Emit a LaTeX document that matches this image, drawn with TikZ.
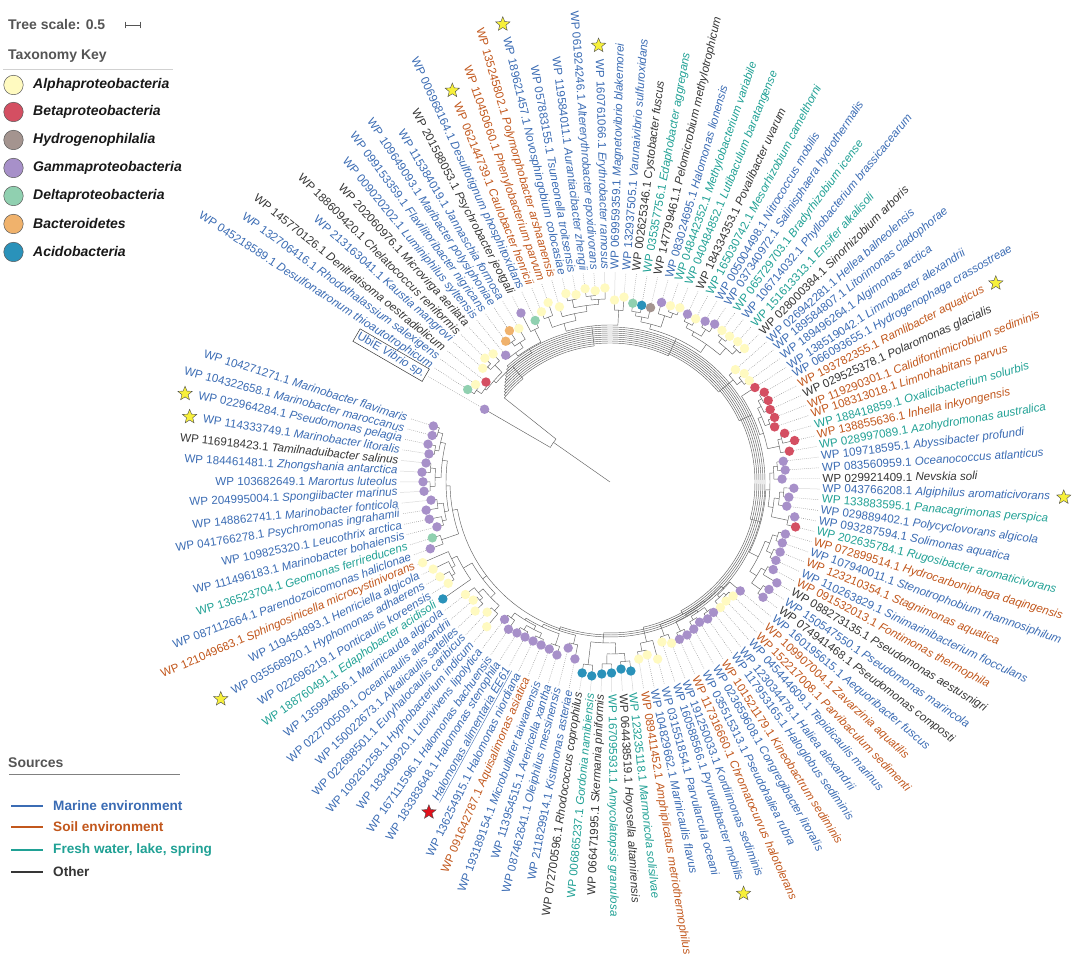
\documentclass[tikz,border=0pt]{standalone}
\usepackage{fontspec}
\setmainfont{Liberation Sans}
\usetikzlibrary{shapes.geometric}
\definecolor{mar}{HTML}{3B6CB4}
\definecolor{soil}{HTML}{C2571C}
\definecolor{fresh}{HTML}{20A195}
\definecolor{oth}{HTML}{363636}
\definecolor{cAl}{HTML}{FFFAC0}
\definecolor{cBe}{HTML}{D44F62}
\definecolor{cHy}{HTML}{A4948F}
\definecolor{cGa}{HTML}{A790C9}
\definecolor{cDe}{HTML}{90D0B0}
\definecolor{cBa}{HTML}{F0B26C}
\definecolor{cAc}{HTML}{2A92BA}
\definecolor{ttl}{HTML}{555555}
\definecolor{starY}{HTML}{F7F03A}
\definecolor{starR}{HTML}{E0101B}
\newcommand\labsize{\fontsize{11.6}{13}\selectfont}
\newcommand\WPl[2]{WP #1 \textit{#2}}
\def\emptymac{}
\setlength{\fboxsep}{1.5pt}
\setlength{\fboxrule}{0.5pt}
\makeatletter
\newcommand\Lf[5]{%
  \pgfmathsetmacro\tmpang{149.9-2.92*(#1-1)}%
  \expandafter\xdef\csname ta@L#1\endcsname{\tmpang}%
  \expandafter\xdef\csname tr@L#1\endcsname{#2}%
  \expandafter\xdef\csname dc@L#1\endcsname{#3}%
  \expandafter\xdef\csname lc@L#1\endcsname{#4}%
  \expandafter\gdef\csname tx@L#1\endcsname{#5}%
  \expandafter\gdef\csname st@L#1\endcsname{}%
}
\newcommand\MarkStar[2]{\expandafter\gdef\csname st@L#1\endcsname{#2}}
\newcommand\Cl[4]{%
  \gdef\cl@first{}%
  \foreach \ch in {#4}{%
    \ifx\cl@first\@empty\xdef\cl@first{\ch}\fi
    \xdef\cl@last{\ch}}%
  \edef\cl@a{\csname ta@\cl@first\endcsname}%
  \edef\cl@b{\csname ta@\cl@last\endcsname}%
  \if\relax\detokenize{#3}\relax
    \pgfmathsetmacro\cl@m{(\cl@a+\cl@b)/2}%
  \else
    \edef\cl@m{#3}%
  \fi
  \pgfmathsetmacro\cl@hi{max(\cl@a,\cl@b,\cl@m)}%
  \pgfmathsetmacro\cl@lo{min(\cl@a,\cl@b,\cl@m)}%
  \draw[br] (\cl@hi:#2) arc[start angle=\cl@hi, end angle=\cl@lo, radius=#2];
  \foreach \ch in {#4}{%
    \edef\cl@ca{\csname ta@\ch\endcsname}%
    \edef\cl@cr{\csname tr@\ch\endcsname}%
    \draw[br] (\cl@ca:#2) -- (\cl@ca:\cl@cr);}%
  \expandafter\xdef\csname ta@#1\endcsname{\cl@m}%
  \expandafter\xdef\csname tr@#1\endcsname{#2}%
}
\makeatother
\tikzset{
  br/.style={black!62, line width=0.45pt},
  dotl/.style={black!42, line width=0.5pt, dash pattern=on 0.7pt off 1.3pt},
  lab/.style={font=\labsize, inner sep=0.5pt},
  mstar/.style={star, star points=5, star point ratio=2.3, minimum size=15pt, inner sep=0pt, draw=black!70, line width=0.4pt},
  ttlfont/.style={font=\bfseries\fontsize{14}{16}\selectfont, text=ttl, inner sep=0pt},
  legtax/.style={font=\bfseries\itshape\fontsize{14}{16}\selectfont, text=black!90, inner sep=0pt},
  legsrc/.style={font=\bfseries\fontsize{13.6}{16}\selectfont, inner sep=0pt},
  legdot/.style={circle, draw=black!65, line width=0.5pt, minimum size=19.5pt, inner sep=0pt},
  srcline/.style={line width=1.6pt}
}
\begin{document}
\begin{tikzpicture}[x=1pt,y=1pt]
\fill[white] (0,0) rectangle (1080,965);
\useasboundingbox (0,0) rectangle (1080,965);
\begin{scope}[shift={(610,483)}]
\Lf{1}{145}{cGa}{mar}{\fcolorbox{oth}{white}{UbiE \textit{Vibrio sp.}}}
\Lf{2}{169.7}{cDe}{mar}{\WPl{045218589.1}{Desulfonatronum thioautotrophicum}}
\Lf{3}{166}{cAl}{mar}{\WPl{132706416.1}{Rhodothalassium salexigens}}
\Lf{4}{159.3}{cBe}{oth}{\WPl{145770126.1}{Denitratisoma oestradiolicum}}
\Lf{5}{170.7}{cAl}{mar}{\WPl{213163041.1}{Kaustia mangrovi}}
\Lf{6}{176}{cAl}{oth}{\WPl{188609420.1}{Chelatococcus reniformis}}
\Lf{7}{173.4}{cAl}{oth}{\WPl{202060976.1}{Microvirga aerilata}}
\Lf{8}{164.2}{cGa}{mar}{\WPl{009020202.1}{Luminiphilus syltensis}}
\Lf{9}{175.2}{cBa}{mar}{\WPl{099153359.1}{Flavilitoribacter nigricans}}
\Lf{10}{181.7}{cBa}{mar}{\WPl{109649093.1}{Maribacter polysiphoniae}}
\Lf{11}{178.5}{cAl}{mar}{\WPl{115384019.1}{Jannaschia formosa}}
\Lf{12}{191}{cGa}{oth}{\WPl{201588053.1}{Psychrobacter jeotgali}}
\Lf{13}{178}{cDe}{mar}{\WPl{006968164.1}{Desulfotignum phosphitoxidans}}
\Lf{14}{183.5}{cAl}{soil}{\WPl{062144739.1}{Caulobacter henricii}}
\Lf{15}{189.8}{cAl}{soil}{\WPl{110450660.1}{Phenylobacterium parvum}}
\Lf{16}{182.3}{cAl}{soil}{\WPl{135245802.1}{Polymorphobacter arshaanensis}}
\Lf{17}{193.5}{cAl}{mar}{\WPl{189621457.1}{Novosphingobium colocasiae}}
\Lf{18}{190.4}{cAl}{mar}{\WPl{057883155.1}{Tsuneonella troitsensis}}
\Lf{19}{194.9}{cAl}{mar}{\WPl{119584011.1}{Aurantiacibacter zhengii}}
\Lf{20}{191.8}{cAl}{mar}{\WPl{061924246.1}{Altererythrobacter epoxidivorans}}
\Lf{21}{194.1}{cAl}{mar}{\WPl{160761066.1}{Erythrobacter ramosus}}
\Lf{22}{182}{cAl}{mar}{\WPl{069959359.1}{Magnetovibrio blakemorei}}
\Lf{23}{185.4}{cAl}{mar}{\WPl{132937505.1}{Varunaivibrio sulfuroxidans}}
\Lf{24}{180.2}{cDe}{oth}{\WPl{002625346.1}{Cystobacter fuscus}}
\Lf{25}{179.5}{cAc}{fresh}{\WPl{035357756.1}{Edaphobacter aggregans}}
\Lf{26}{179}{cHy}{oth}{\WPl{147799461.1}{Pelomicrobium methylotrophicum}}
\Lf{27}{186.8}{cGa}{mar}{\WPl{083024695.1}{Halomonas lionensis}}
\Lf{28}{186.3}{cAl}{fresh}{\WPl{048442352.1}{Methylobacterium variabile}}
\Lf{29}{187.7}{cAl}{fresh}{\WPl{040484852.1}{Lutibaculum baratangense}}
\Lf{30}{184.9}{cGa}{oth}{\WPl{184334353.1}{Povalibacter uvarum}}
\Lf{31}{184.3}{cAl}{fresh}{\WPl{165030742.1}{Mesorhizobium camelthorni}}
\Lf{32}{186.8}{cGa}{mar}{\WPl{005004498.1}{Nitrococcus mobilis}}
\Lf{33}{189.4}{cGa}{mar}{\WPl{037340972.1}{Salinisphaera hydrothermalis}}
\Lf{34}{188.4}{cAl}{fresh}{\WPl{065729703.1}{Bradyrhizobium icense}}
\Lf{35}{188.5}{cAl}{mar}{\WPl{106714032.1}{Phyllobacterium brassicacearum}}
\Lf{36}{189.8}{cAl}{fresh}{\WPl{151613313.1}{Ensifer alkalisoli}}
\Lf{37}{189.5}{cAl}{oth}{\WPl{028000384.1}{Sinorhizobium arboris}}
\Lf{38}{168.4}{cAl}{mar}{\WPl{026942281.1}{Hellea balneolensis}}
\Lf{39}{172.6}{cAl}{mar}{\WPl{189584807.1}{Litorimonas cladophorae}}
\Lf{40}{172.2}{cAl}{mar}{\WPl{189496264.1}{Algimonas arctica}}
\Lf{41}{173}{cBe}{mar}{\WPl{138519042.1}{Limnobacter alexandrii}}
\Lf{42}{178.5}{cBe}{mar}{\WPl{066093655.1}{Hydrogenophaga crassostreae}}
\Lf{43}{178}{cBe}{soil}{\WPl{193782355.1}{Ramlibacter aquaticus}}
\Lf{44}{175.8}{cBe}{oth}{\WPl{029525378.1}{Polaromonas glacialis}}
\Lf{45}{176.8}{cBe}{soil}{\WPl{119290301.1}{Calidifontimicrobium sediminis}}
\Lf{46}{173.6}{cBe}{soil}{\WPl{108313018.1}{Limnohabitans parvus}}
\Lf{47}{181.3}{cBe}{fresh}{\WPl{188418859.1}{Oxalicibacterium solurbis}}
\Lf{48}{189.2}{cBe}{soil}{\WPl{138855636.1}{Inhella inkyongensis}}
\Lf{49}{182}{cBe}{fresh}{\WPl{028997089.1}{Azohydromonas australica}}
\Lf{50}{174.5}{cGa}{mar}{\WPl{109718595.1}{Abyssibacter profundi}}
\Lf{51}{175.6}{cGa}{mar}{\WPl{083560959.1}{Oceanococcus atlanticus}}
\Lf{52}{172.1}{cGa}{oth}{\WPl{029921409.1}{Nevskia soli}}
\Lf{53}{184}{cGa}{mar}{\WPl{043766208.1}{Algiphilus aromaticivorans}}
\Lf{54}{179.5}{cGa}{fresh}{\WPl{133883595.1}{Panacagrimonas perspica}}
\Lf{55}{178.4}{cGa}{mar}{\WPl{029889402.1}{Polycyclovorans algicola}}
\Lf{56}{187.9}{cGa}{mar}{\WPl{093287594.1}{Solimonas aquatica}}
\Lf{57}{190.9}{cBe}{fresh}{\WPl{202635784.1}{Rugosibacter aromaticivorans}}
\Lf{58}{183}{cGa}{soil}{\WPl{072899514.1}{Hydrocarboniphaga daqingensis}}
\Lf{59}{182.8}{cGa}{mar}{\WPl{107940011.1}{Stenotrophobium rhamnosiphilum}}
\Lf{60}{184}{cGa}{soil}{\WPl{123210354.1}{Stagnimonas aquatica}}
\Lf{61}{183.5}{cGa}{mar}{\WPl{110263829.1}{Sinimarinibacterium flocculans}}
\Lf{62}{185.2}{cGa}{soil}{\WPl{091532013.1}{Fontimonas thermophila}}
\Lf{63}{195}{cGa}{oth}{\WPl{088273135.1}{Pseudomonas aestusnigri}}
\Lf{64}{191.9}{cGa}{mar}{\WPl{150547550.1}{Pseudomonas marincola}}
\Lf{65}{191.6}{cGa}{oth}{\WPl{074941468.1}{Pseudomonas composti}}
\Lf{66}{169.8}{cGa}{mar}{\WPl{160195615.1}{Aequoribacter fuscus}}
\Lf{67}{167.8}{cAl}{soil}{\WPl{109907004.1}{Zavarzinia aquatilis}}
\Lf{68}{166.2}{cAl}{soil}{\WPl{152217008.1}{Parvibaculum sedimenti}}
\Lf{69}{167.2}{cAl}{mar}{\WPl{045444609.1}{Tepidicaulis marinus}}
\Lf{70}{166.5}{cGa}{mar}{\WPl{123034478.1}{Haliea alexandrii}}
\Lf{71}{168.2}{cGa}{mar}{\WPl{117953165.1}{Haloglobus sediminis}}
\Lf{72}{166.4}{cGa}{soil}{\WPl{101521179.1}{Kineobactrum sediminis}}
\Lf{73}{169.3}{cGa}{mar}{\WPl{023659608.1}{Congregibacter litoralis}}
\Lf{74}{171.3}{cGa}{mar}{\WPl{035515313.1}{Pseudohaliea rubra}}
\Lf{75}{171.9}{cGa}{soil}{\WPl{117316660.1}{Chromatocurvus halotolerans}}
\Lf{76}{172.5}{cAl}{mar}{\WPl{191250033.1}{Kordiimonas sediminis}}
\Lf{77}{168.2}{cAl}{mar}{\WPl{160588566.1}{Pyruvatibacter mobilis}}
\Lf{78}{183.4}{cAl}{mar}{\WPl{031551854.1}{Parvularcula oceani}}
\Lf{79}{176.9}{cAl}{mar}{\WPl{104829662.1}{Marinicaulis flavus}}
\Lf{80}{179.4}{cAl}{soil}{\WPl{089411452.1}{Amphiplicatus metriothermophilus}}
\Lf{81}{190.2}{cAc}{fresh}{\WPl{123235118.1}{Marmoricola solisilvae}}
\Lf{82}{187.4}{cAc}{oth}{\WPl{064438519.1}{Hoyosella altamirensis}}
\Lf{83}{191}{cAc}{fresh}{\WPl{167095931.1}{Amycolatopsis granulosa}}
\Lf{84}{192.2}{cAc}{oth}{\WPl{066471995.1}{Skermania piniformis}}
\Lf{85}{194.8}{cAc}{fresh}{\WPl{006865237.1}{Gordonia namibiensis}}
\Lf{86}{193}{cAc}{oth}{\WPl{072700596.1}{Rhodococcus coprophilus}}
\Lf{87}{180.4}{cGa}{mar}{\WPl{211829914.1}{Kistimonas asteriae}}
\Lf{88}{171.2}{cGa}{mar}{\WPl{087462641.1}{Oleiphilus messinensis}}
\Lf{89}{180.9}{cGa}{mar}{\WPl{113954515.1}{Arenicella xantha}}
\Lf{90}{177.8}{cGa}{mar}{\WPl{193189154.1}{Microbulbifer taiwanensis}}
\Lf{91}{177}{cGa}{soil}{\WPl{091642787.1}{Aquisalimonas asiatica}}
\Lf{92}{176.7}{cGa}{mar}{\WPl{136254915.1}{Halomonas niordiana}}
\Lf{93}{176.8}{cGa}{mar}{\underline{\textit{Halomonas alimentaria EE61}}}
\Lf{94}{177.3}{cGa}{mar}{\WPl{183383648.1}{Halomonas stenophila}}
\Lf{95}{178.9}{cGa}{mar}{\WPl{167111596.1}{Halomonas bachuensis}}
\Lf{96}{173.2}{cGa}{mar}{\WPl{183409920.1}{Litorivivens lipolytica}}
\Lf{97}{190.1}{cAl}{mar}{\WPl{109261258.1}{Hyphobacterium indicum}}
\Lf{98}{179}{cAl}{mar}{\WPl{022698501.1}{Euryhalocaulis caribicus}}
\Lf{99}{186.7}{cAl}{mar}{\WPl{150022673.1}{Alkalicaulis satelles}}
\Lf{100}{180.8}{cAl}{mar}{\WPl{022700509.1}{Oceanicaulis alexandrii}}
\Lf{101}{183.2}{cAl}{mar}{\WPl{135994866.1}{Marinicauda algicola}}
\Lf{102}{204}{cAc}{fresh}{\WPl{188760491.1}{Edaphobacter acidisoli}}
\Lf{103}{190.9}{cAl}{mar}{\WPl{022696219.1}{Ponticaulis koreensis}}
\Lf{104}{194.7}{cAl}{mar}{\WPl{035568920.1}{Hyphomonas adhaerens}}
\Lf{105}{197.2}{cAl}{mar}{\WPl{119454893.1}{Henriciella algicola}}
\Lf{106}{204}{cAl}{soil}{\WPl{121049683.1}{Sphingosinicella microcystinivorans}}
\Lf{107}{191.7}{cGa}{mar}{\WPl{087112664.1}{Parendozoicomonas haliclonae}}
\Lf{108}{186.3}{cDe}{fresh}{\WPl{136523704.1}{Geomonas ferrireducens}}
\Lf{109}{178.8}{cGa}{mar}{\WPl{111496183.1}{Marinobacter bohaiensis}}
\Lf{110}{184.5}{cGa}{mar}{\WPl{109825320.1}{Leucothrix arctica}}
\Lf{111}{186}{cGa}{mar}{\WPl{041766278.1}{Psychromonas ingrahamii}}
\Lf{112}{179.9}{cGa}{mar}{\WPl{148862741.1}{Marinobacter fonticola}}
\Lf{113}{186.2}{cGa}{mar}{\WPl{204995004.1}{Spongiibacter marinus}}
\Lf{114}{187}{cGa}{mar}{\WPl{103682649.1}{Marortus luteolus}}
\Lf{115}{188.3}{cGa}{mar}{\WPl{184461481.1}{Zhongshania antarctica}}
\Lf{116}{185}{cGa}{oth}{\WPl{116918423.1}{Tamilnaduibacter salinus}}
\Lf{117}{183.2}{cGa}{mar}{\WPl{114333749.1}{Marinobacter litoralis}}
\Lf{118}{185.9}{cGa}{mar}{\WPl{022964284.1}{Pseudomonas pelagia}}
\Lf{119}{183.8}{cGa}{mar}{\WPl{104322658.1}{Marinobacter maroccanus}}
\Lf{120}{185.3}{cGa}{mar}{\WPl{104271271.1}{Marinobacter flavimaris}}
\MarkStar{14}{starY}\MarkStar{17}{starY}\MarkStar{21}{starY}\MarkStar{43}{starY}
\MarkStar{53}{starY}\MarkStar{77}{starY}\MarkStar{104}{starY}\MarkStar{117}{starY}
\MarkStar{118}{starY}\MarkStar{93}{starR}
% group 1
\Cl{a1}{162}{}{L2,L3}
\Cl{a2}{156}{}{a1,L4}
\Cl{a3}{168}{}{L5,L6}
\Cl{a4}{164}{}{a3,L7}
\Cl{a5}{154}{}{a2,a4}
\Cl{a6}{171}{}{L9,L10}
\Cl{a7}{166}{}{a6,L11}
\Cl{a8}{160}{}{L8,a7}
\Cl{a10}{170}{}{L12,L13}
\Cl{a9}{156}{}{a8,a10}
\Cl{a11}{151}{}{a5,a9}
% group 2
\Cl{b1}{176}{}{L14,L15}
\Cl{b2}{186}{}{L17,L18}
\Cl{b3}{187}{}{L19,L20}
\Cl{b4}{183}{}{b3,L21}
\Cl{b5}{178}{}{b2,b4}
\Cl{b6}{172}{}{L16,b5}
\Cl{b7}{165}{}{b1,b6}
\Cl{b8}{172}{}{L22,L23}
\Cl{b9}{157}{}{b7,b8}
% group 3
\Cl{c1}{172}{}{L24,L25}
\Cl{c2}{168}{}{c1,L26}
\Cl{c3}{180}{}{L28,L29}
\Cl{c4}{175}{}{L27,c3}
\Cl{c5}{163}{}{c2,c4}
\Cl{c6}{177}{}{L30,L31}
\Cl{c7}{180}{}{L32,L33}
\Cl{c8}{172}{}{c6,c7}
\Cl{c9}{182}{}{L34,L35}
\Cl{c10}{183}{}{L36,L37}
\Cl{c11}{177}{}{c9,c10}
\Cl{c12}{168}{}{c8,c11}
\Cl{c13}{158}{}{c5,c12}
% group 4
\Cl{d1}{166}{}{L39,L40}
\Cl{d2}{160}{}{L38,d1}
% group 5
\Cl{e1}{173}{}{L42,L43}
\Cl{e2}{169}{}{e1,L44}
\Cl{e3}{170}{}{L45,L46}
\Cl{e4}{165}{}{e2,e3}
\Cl{e5}{177}{}{L47,L48}
\Cl{e6}{173}{}{e5,L49}
\Cl{e7}{161}{}{e4,e6}
\Cl{e8}{157}{}{L41,e7}
% group 6
\Cl{f1}{168}{}{L50,L51}
\Cl{f2}{164}{}{f1,L52}
\Cl{f3}{174}{}{L53,L54}
\Cl{f4}{170}{}{f3,L55}
\Cl{f5}{182}{}{L56,L57}
\Cl{f6}{165}{}{f4,f5}
\Cl{f7}{160}{}{f2,f6}
\Cl{f8}{176}{}{L58,L59}
\Cl{f9}{177}{}{L60,L61}
\Cl{f10}{171}{}{f8,f9}
\Cl{f11}{179}{}{L62,L63}
\Cl{f12}{185}{}{L64,L65}
\Cl{f13}{174}{}{f11,f12}
\Cl{f14}{166}{}{f10,f13}
\Cl{f15}{156}{}{f7,f14}
% group 7
\Cl{g1}{162}{}{L67,L68}
\Cl{g2}{159}{}{g1,L69}
\Cl{g3}{156}{}{L66,g2}
\Cl{g4}{162}{}{L70,L71}
\Cl{g5}{161}{}{L72,L73}
\Cl{g6}{157}{}{g4,g5}
\Cl{g7}{165}{}{L74,L75}
\Cl{g8}{154.5}{}{g6,g7}
\Cl{g9}{163}{}{L76,L77}
\Cl{g10}{152.5}{}{g3,g8}
\Cl{g11}{151}{}{g10,g9}
% group 8
\Cl{h1}{172}{}{L79,L80}
\Cl{h2}{164}{}{L78,h1}
% group 9
\Cl{i1}{180}{}{L81,L82}
\Cl{i2}{182}{}{L83,L84}
\Cl{i3}{184}{}{L85,L86}
\Cl{i4}{172}{}{i1,i2}
\Cl{i5}{161}{}{i4,i3}
% group 10
\Cl{j1}{166}{}{L87,L88}
\Cl{j2}{172}{}{L89,L90}
\Cl{j3}{171}{}{L91,L92}
\Cl{j4}{171}{}{L93,L94}
\Cl{j5}{168}{}{L95,L96}
\Cl{j6}{166}{}{j3,j4}
\Cl{j7}{162}{}{j6,j5}
\Cl{j8}{160}{}{j2,j7}
\Cl{j9}{157}{}{j1,j8}
% group 11
\Cl{k1}{173}{}{L97,L98}
\Cl{k2}{176}{}{L99,L100}
\Cl{k3}{172}{}{k2,L101}
\Cl{k4}{166}{}{k1,k3}
\Cl{k5}{184}{}{L103,L104}
\Cl{k6}{180}{}{k5,L105}
\Cl{k7}{176}{}{k6,L106}
\Cl{k8}{170}{}{L102,k7}
\Cl{k9}{160}{}{k4,k8}
% group 12
\Cl{l1}{178}{}{L107,L108}
\Cl{l2}{172}{}{L109,L110}
\Cl{l3}{174}{}{L111,L112}
\Cl{l4}{168}{}{l2,l3}
\Cl{l5}{180}{}{L113,L114}
\Cl{l6}{180}{}{L115,L116}
\Cl{l7}{175}{}{l5,l6}
\Cl{l8}{178}{}{L117,L118}
\Cl{l9}{179}{}{L119,L120}
\Cl{l10}{174}{}{l8,l9}
\Cl{l11}{169}{}{l7,l10}
\Cl{l12}{164}{}{l4,l11}
\Cl{l13}{160}{}{l1,l12}
% backbone
\Cl{R10}{155}{131.5}{k9,l13}
\Cl{R9}{153}{132.5}{j9,R10}
\Cl{R8}{151}{133.5}{i5,R9}
\Cl{R7}{149}{134.5}{h2,R8}
\Cl{R6}{147}{135.5}{g11,R7}
\Cl{R5}{145}{136.5}{f15,R6}
\Cl{R4}{143}{137.5}{e8,R5}
\Cl{R3}{141}{138.5}{d2,R4}
\Cl{R2}{139}{139.5}{c13,R3}
\Cl{R1}{137}{140.5}{b9,R2}
\Cl{B}{135}{141.5}{a11,R1}
\Cl{A}{69}{145}{L1,B}
\coordinate (root) at (0,0);
\coordinate (nodeA) at (145:69);
\draw[br] (root) -- (nodeA);
% leaves, labels, stars
\foreach \i in {1,...,120}{%
  \edef\la{\csname ta@L\i\endcsname}%
  \edef\lr{\csname tr@L\i\endcsname}%
  \edef\ldc{\csname dc@L\i\endcsname}%
  \edef\llc{\csname lc@L\i\endcsname}%
  \edef\lst{\csname st@L\i\endcsname}%
  \pgfmathsetmacro\lrr{\lr+4.7}%
  \draw[dotl] (\la:\lrr) -- (\la:210);
  \fill[\ldc] (\la:\lr) circle[radius=4.7];
  \pgfmathtruncatemacro\isr{and(\la>-90,\la<90)}%
  \ifnum\isr=1
    \node[lab,anchor=west,rotate=\la,text=\llc] (lab\i) at (\la:212) {\csname tx@L\i\endcsname};
    \def\far{east}%
  \else
    \pgfmathsetmacro\lb{\la+180}%
    \node[lab,anchor=east,rotate=\lb,text=\llc] (lab\i) at (\la:212) {\csname tx@L\i\endcsname};
    \def\far{west}%
  \fi
  \ifx\lst\emptymac\else
    \path (lab\i.\far) ++(\la:13) node[mstar,fill=\lst] (st\i) {};
  \fi
}
\end{scope}
% legend: tree scale and taxonomy
\node[ttlfont, anchor=west] (treescale) at (8,940) {Tree scale: 0.5};
\coordinate (sbA) at (125,940);
\coordinate (sbB) at (141,940);
\draw[ttl, line width=0.7pt, {|-|}] (sbA) -- (sbB);
\node[ttlfont, anchor=west] (taxkey) at (8,909) {Taxonomy Key};
\coordinate (tkA) at (3,896);
\coordinate (tkB) at (173,896);
\draw[black!18, line width=0.7pt] (tkA) -- (tkB);
\foreach \yy/\cc/\nn [count=\k] in {880/cAl/Alphaproteobacteria, 853/cBe/Betaproteobacteria, 825/cHy/Hydrogenophilalia, 797/cGa/Gammaproteobacteria, 769/cDe/Deltaproteobacteria, 741/cBa/Bacteroidetes, 713/cAc/Acidobacteria}{
  \node[legdot, fill=\cc] (kd\k) at (13.5,\yy) {};
  \node[legtax, anchor=west] (kt\k) at (33,\yy) {\nn};
}
% legend: sources
\node[ttlfont, anchor=west] (srcttl) at (8,202) {Sources};
\coordinate (soA) at (9,191);
\coordinate (soB) at (180,191);
\draw[black!50, line width=0.7pt] (soA) -- (soB);
\coordinate (m1) at (11,159); \coordinate (m2) at (43,159);
\coordinate (s1) at (11,138); \coordinate (s2) at (43,138);
\coordinate (f1) at (11,115); \coordinate (f2) at (43,115);
\coordinate (o1) at (11,93);  \coordinate (o2) at (43,93);
\draw[srcline, mar] (m1) -- (m2);
\draw[srcline, soil] (s1) -- (s2);
\draw[srcline, fresh] (f1) -- (f2);
\draw[srcline, oth] (o1) -- (o2);
\node[legsrc, anchor=west, text=mar] (srcM) at (53,159) {Marine environment};
\node[legsrc, anchor=west, text=soil] (srcS) at (53,138) {Soil environment};
\node[legsrc, anchor=west, text=fresh] (srcF) at (53,115) {Fresh water, lake, spring};
\node[legsrc, anchor=west, text=oth] (srcO) at (53,93) {Other};
\end{tikzpicture}
\end{document}
